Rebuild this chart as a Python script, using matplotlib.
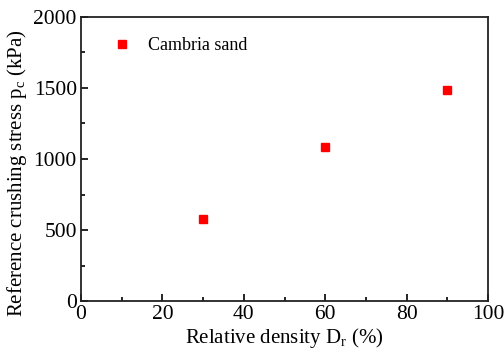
import matplotlib
matplotlib.use("Agg")
import matplotlib.pyplot as plt
from matplotlib.ticker import MultipleLocator

plt.rcParams['font.family'] = ['Liberation Serif', 'DejaVu Serif']
plt.rcParams['mathtext.fontset'] = 'custom'
plt.rcParams['mathtext.rm'] = 'Liberation Serif'
plt.rcParams['mathtext.it'] = 'Liberation Serif'

relative_density = [30, 60, 90]
crushing_stress = [580, 1087, 1486]
series_label = "Cambria sand"

fig = plt.figure(figsize=(5.04, 3.56), dpi=100)
ax = fig.add_axes([81/504, 1-301/356, (488-81)/504, (301-17)/356])

ax.plot(relative_density, crushing_stress, linestyle='none', marker='s',
        color='#ff0000', markersize=5.5, label=series_label)

ax.set_xlim(0, 100)
ax.set_ylim(0, 2000)
ax.xaxis.set_major_locator(MultipleLocator(20))
ax.xaxis.set_minor_locator(MultipleLocator(10))
ax.yaxis.set_major_locator(MultipleLocator(500))
ax.yaxis.set_minor_locator(MultipleLocator(250))
ax.tick_params(which='both', direction='in', top=False, right=False,
               labelsize=15.5, width=1.2)
ax.tick_params(which='major', length=5, pad=3)
ax.tick_params(which='minor', length=3)
for s in ax.spines.values():
    s.set_linewidth(1.3)
    s.set_color('#222222')

ax.set_xlabel(r'Relative density D$_\mathregular{r}$ (%)', fontsize=15, labelpad=1)
ax.set_ylabel(r'Reference crushing stress p$_\mathregular{c}$ (kPa)', fontsize=15)
ax.yaxis.set_label_coords(-0.128, 0.45)

ax.legend(loc='upper left', frameon=False, fontsize=13, handlelength=1.0,
          handletextpad=0.9, bbox_to_anchor=(0.062, 0.955), borderaxespad=0)

fig.savefig('out.png', dpi=100)
